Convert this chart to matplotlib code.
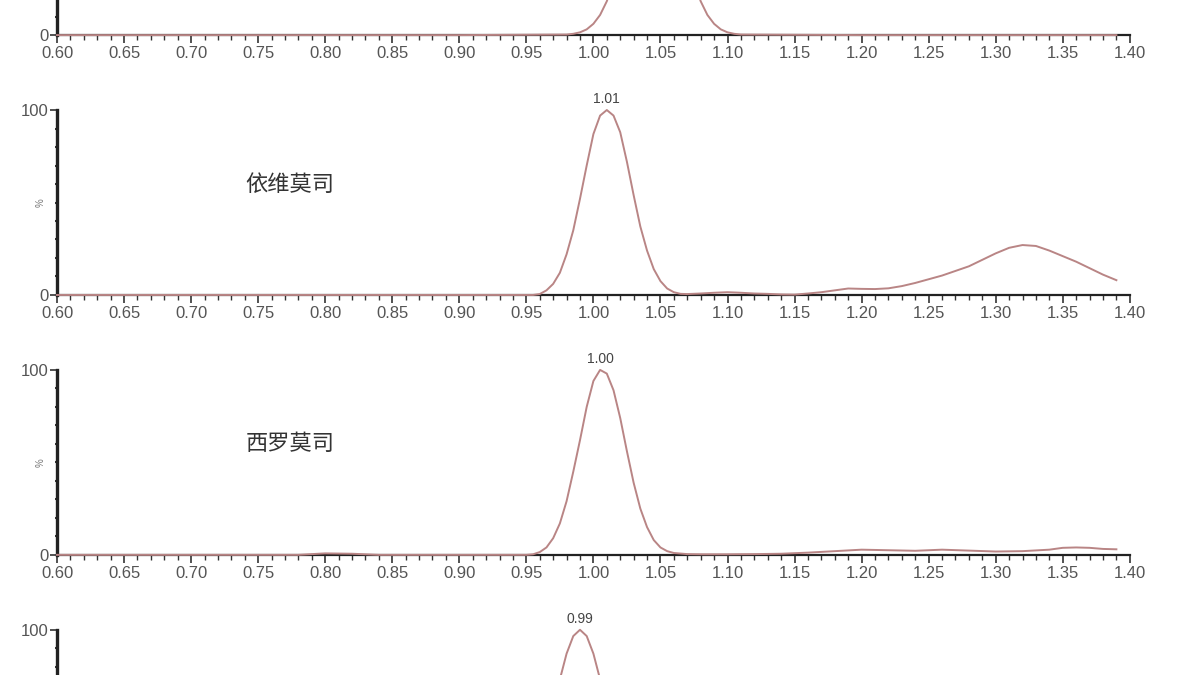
import matplotlib
matplotlib.use("Agg")
import matplotlib.pyplot as plt
from matplotlib.ticker import MultipleLocator

plt.rcParams['font.family'] = ['Liberation Sans', 'Noto Sans CJK SC', 'DejaVu Sans']

# retention time (min) / relative intensity (%)
top_x = [0.60, 0.90, 0.98, 0.985, 0.99, 0.995, 1.00, 1.005, 1.01, 1.015, 1.02, 1.025,
         1.03, 1.035, 1.04, 1.045, 1.05, 1.055, 1.06, 1.065, 1.07, 1.075, 1.08, 1.085,
         1.09, 1.095, 1.10, 1.105, 1.11, 1.20, 1.30, 1.39]
top_y = [0, 0, 0.3, 0.7, 1.5, 3.1, 6.1, 10.9, 18.3, 28.7, 42.1, 57.5,
         73.2, 87.1, 96.6, 100, 96.6, 87.1, 73.2, 57.5, 42.1, 28.7, 18.3, 10.9,
         6.1, 3.1, 1.5, 0.7, 0.3, 0, 0, 0]

evero_x = [0.60, 0.90, 0.955, 0.96, 0.965, 0.97, 0.975, 0.98, 0.985, 0.99, 0.995, 1.00,
           1.005, 1.01, 1.015, 1.02, 1.025, 1.03, 1.035, 1.04, 1.045, 1.05, 1.055, 1.06,
           1.065, 1.07, 1.08, 1.09, 1.10, 1.11, 1.12, 1.13, 1.14, 1.15, 1.16, 1.17,
           1.18, 1.19, 1.20, 1.21, 1.22, 1.23, 1.24, 1.25, 1.26, 1.27, 1.28, 1.29,
           1.30, 1.31, 1.32, 1.33, 1.34, 1.35, 1.36, 1.37, 1.38, 1.39]
evero_y = [0, 0, 0, 0.5, 2.5, 6, 12, 22, 35, 52, 70, 87,
           97, 100, 97, 88, 72, 54, 37, 24, 14, 7.5, 3.5, 1.5,
           0.6, 0.5, 0.8, 1.2, 1.5, 1.2, 0.8, 0.6, 0.3, 0.2, 0.8, 1.5,
           2.5, 3.5, 3.3, 3.2, 3.6, 4.8, 6.5, 8.5, 10.5, 13, 15.5, 19,
           22.5, 25.5, 27, 26.5, 24, 21, 18, 14.5, 11, 8]

siro_x = [0.60, 0.78, 0.80, 0.82, 0.84, 0.95, 0.955, 0.96, 0.965, 0.97, 0.975, 0.98,
          0.985, 0.99, 0.995, 1.00, 1.005, 1.01, 1.015, 1.02, 1.025, 1.03, 1.035, 1.04,
          1.045, 1.05, 1.055, 1.06, 1.07, 1.08, 1.10, 1.12, 1.14, 1.16, 1.18, 1.20,
          1.22, 1.24, 1.26, 1.28, 1.30, 1.32, 1.34, 1.35, 1.36, 1.37, 1.38, 1.39]
siro_y = [0, 0, 0.8, 0.6, 0, 0, 0.3, 1.5, 4, 9, 17, 29,
          45, 62, 80, 94, 100, 98, 89, 74, 56, 39, 25, 15,
          8, 4, 2, 1, 0.4, 0.3, 0.3, 0.4, 0.6, 1.2, 2, 2.8,
          2.5, 2.2, 2.8, 2.3, 1.8, 2.0, 2.8, 3.8, 4.0, 3.8, 3.2, 3.0]

bot_x = [0.60, 0.90, 0.925, 0.93, 0.935, 0.94, 0.945, 0.95, 0.955, 0.96, 0.965, 0.97,
         0.975, 0.98, 0.985, 0.99, 0.995, 1.00, 1.005, 1.01, 1.015, 1.02, 1.025, 1.03,
         1.035, 1.04, 1.045, 1.05, 1.055, 1.10, 1.39]
bot_y = [0, 0, 0.3, 0.7, 1.5, 3.1, 6.1, 10.9, 18.3, 28.7, 42.1, 57.5,
         73.2, 87.1, 96.6, 100, 96.6, 87.1, 73.2, 57.5, 42.1, 28.7, 18.3, 10.9,
         6.1, 3.1, 1.5, 0.7, 0.3, 0, 0]

peak_rt = ["1.05", "1.01", "1.00", "0.99"]
peak_pos = [1.045, 1.01, 1.005, 0.99]
names = [None, "依维莫司", "西罗莫司", None]
traces = [(top_x, top_y), (evero_x, evero_y), (siro_x, siro_y), (bot_x, bot_y)]

fig = plt.figure(figsize=(12, 6.75), dpi=100)
bottoms = [0.948, 0.563, 0.178, -0.207]

for (tx, ty), b, rt, pos, name in zip(traces, bottoms, peak_rt, peak_pos, names):
    ax = fig.add_axes([0.0475, b, 0.894, 0.274])
    ax.plot(tx, ty, color="#b98585", lw=1.4, clip_on=False, zorder=4)
    ax.set_xlim(0.60, 1.40)
    ax.set_ylim(0, 100)
    ax.spines[["top", "right"]].set_visible(False)
    ax.spines["left"].set_linewidth(2.4)
    ax.spines["bottom"].set_linewidth(1.6)
    ax.spines["left"].set_color("#222222")
    ax.spines["bottom"].set_color("#222222")
    ax.xaxis.set_major_locator(MultipleLocator(0.05))
    ax.xaxis.set_minor_locator(MultipleLocator(0.01))
    ax.set_yticks([0, 100])
    ax.yaxis.set_minor_locator(MultipleLocator(10))
    ax.set_xticklabels([f"{v:.2f}" for v in ax.get_xticks()])
    ax.tick_params(axis="x", which="major", length=6, width=1.2, color="#333333",
                   labelsize=12, labelcolor="#555555", pad=2)
    ax.tick_params(axis="x", which="minor", length=3.5, width=1.0, color="#333333")
    ax.tick_params(axis="y", which="major", length=5, width=1.2, color="#333333",
                   labelsize=12, labelcolor="#555555", pad=1)
    ax.tick_params(axis="y", which="minor", direction="inout", length=3, width=1.5,
                   color="#333333")
    ax.text(-0.015, 0.5, "%", transform=ax.transAxes, rotation=90, fontsize=7,
            color="#777777", ha="center", va="center")
    ax.text(pos, 102, rt, fontsize=10, color="#444444", ha="center", va="bottom")
    if name:
        ax.text(0.217, 0.6, name, transform=ax.transAxes, fontsize=16,
                family=["Noto Sans CJK SC", "DejaVu Sans"], fontweight="medium",
                color="#333333", ha="center", va="center")

fig.savefig("out.png", dpi=100)
